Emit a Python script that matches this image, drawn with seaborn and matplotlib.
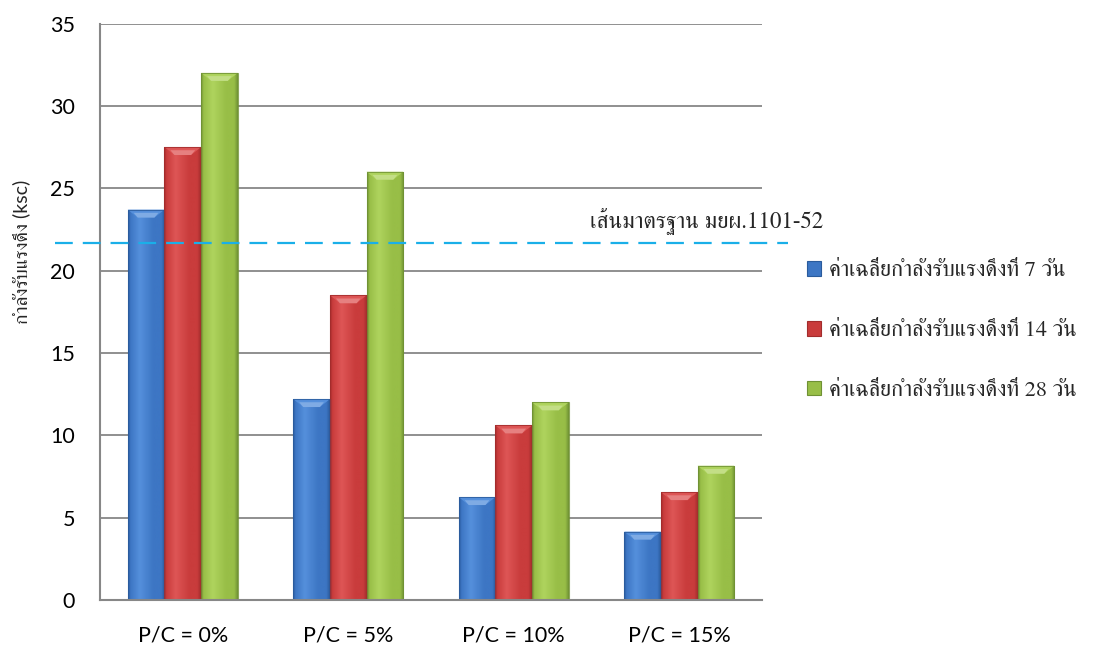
import numpy as np
import pandas as pd
import matplotlib
matplotlib.use("Agg")
import matplotlib.pyplot as plt
import matplotlib.colors as mcolors
from matplotlib import font_manager
from matplotlib.ft2font import FT2Font
from matplotlib.patches import Polygon
from matplotlib.transforms import blended_transform_factory
import seaborn as sns

# ---- data ----
categories = ["P/C = 0%", "P/C = 5%", "P/C = 10%", "P/C = 15%"]
series = [
    "ค่าเฉลี่ยกำลังรับแรงดึงที่ 7 วัน",
    "ค่าเฉลี่ยกำลังรับแรงดึงที่ 14 วัน",
    "ค่าเฉลี่ยกำลังรับแรงดึงที่ 28 วัน",
]
day7 = [23.7, 12.2, 6.25, 4.15]
day14 = [27.5, 18.5, 10.6, 6.55]
day28 = [32.0, 26.0, 12.0, 8.15]
standard_value = 21.7
standard_label = "เส้นมาตรฐาน มยผ.1101-52"
ylabel_text = "กำลังรับแรงดึง (ksc)"
yticks = [0, 5, 10, 15, 20, 25, 30, 35]

df = pd.DataFrame({
    "cat": categories * 3,
    "series": [s for s in series for _ in categories],
    "value": day7 + day14 + day28,
})

# ---- fonts: find something that can draw Thai ----
def find_thai_family():
    found = []
    for f in font_manager.fontManager.ttflist:
        try:
            cmap = FT2Font(f.fname).get_charmap()
        except Exception:
            continue
        if 0x0E01 in cmap and 0x0E33 in cmap:
            found.append(f.name)
    if not found:
        return None
    found = sorted(set(found), key=lambda n: (("Serif" not in n), n))
    return found[0]

thai = find_thai_family()
sns.set_style("white")
latin = "Lato"
fam_latin = [latin, "DejaVu Sans"]
fam_thai = ([thai] if thai else []) + ["DejaVu Sans"]
fam_mixed = [latin] + ([thai] if thai else []) + ["DejaVu Sans"]
plt.rcParams["font.family"] = fam_mixed

# ---- colours (dark edge, body, highlight) ----
shades = [
    ("#2A5B9C", "#3D76C4", "#5590DC"),
    ("#A22C2C", "#C93C3C", "#DE5656"),
    ("#6F9134", "#98BE47", "#AFD45E"),
]
grey = "#878787"

fig = plt.figure(figsize=(10.94, 6.46), dpi=100)
ax = fig.add_axes([100 / 1094, 1 - 600 / 646, 662 / 1094, (600 - 23.5) / 646])

sns.barplot(data=df, x="cat", y="value", hue="series", order=categories,
            hue_order=series, palette=[s[1] for s in shades], width=0.665,
            saturation=1, legend=False, ax=ax, edgecolor="none", linewidth=0)

ax.set_ylim(0, 35)
ax.set_xlim(-0.5, 3.5)
ax.set_yticks(yticks)

# horizontal gridlines
for v in yticks[1:]:
    ax.axhline(v, color=grey, lw=1.3, zorder=0.5)

# bevelled shading for each bar
px_x = 4 / 662
px_y = 35 / 576.5
for container, (dark, body, light) in zip(ax.containers, shades):
    cmap = mcolors.LinearSegmentedColormap.from_list(
        "bar", [(0, dark), (0.07, body), (0.32, light), (0.68, body),
                (0.9, body), (1.0, dark)])
    grad = np.linspace(0, 1, 256).reshape(1, -1)
    for bar in container:
        x0, w, h = bar.get_x(), bar.get_width(), bar.get_height()
        bar.set_zorder(2)
        im = ax.imshow(grad, cmap=cmap, aspect="auto",
                       extent=[x0, x0 + w, 0, h], zorder=2.1,
                       interpolation="bilinear")
        im.set_clip_path(bar)
        bh = 8 * px_y
        bi = 10 * px_x
        top = Polygon([(x0, h), (x0 + w, h), (x0 + w - bi, h - bh),
                       (x0 + bi, h - bh)], closed=True,
                      facecolor=mcolors.to_rgba(light, 1), edgecolor="none",
                      zorder=2.2)
        ax.add_patch(top)
        hl = Polygon([(x0 + bi, h - bh), (x0 + w - bi, h - bh),
                      (x0 + w - bi * 0.6, h - bh * 0.4),
                      (x0 + bi * 0.6, h - bh * 0.4)], closed=True,
                     facecolor=(1, 1, 1, 0.25), edgecolor="none", zorder=2.3)
        ax.add_patch(hl)
        ax.add_patch(plt.Rectangle((x0, 0), w, h, fill=False,
                                   edgecolor=mcolors.to_rgba(dark, 0.8),
                                   lw=0.8, zorder=2.4))
ax.set_xlim(-0.5, 3.5)
ax.set_ylim(0, 35)

# spines and ticks
for s in ["top", "right"]:
    ax.spines[s].set_visible(False)
for s in ["left", "bottom"]:
    ax.spines[s].set_color(grey)
    ax.spines[s].set_linewidth(1.5)
    ax.spines[s].set_zorder(3)
ax.tick_params(axis="y", direction="out", length=6, width=1.3, color=grey,
               pad=12, labelsize=15.5, labelcolor="black")
ax.set_xticks(np.arange(-0.5, 4, 1), minor=True)
ax.tick_params(axis="x", which="minor", direction="out", length=6, width=1.3,
               color=grey)
ax.tick_params(axis="x", which="major", length=0, pad=18, labelsize=15.5,
               labelcolor="black")
for lab in ax.get_xticklabels() + ax.get_yticklabels():
    lab.set_family(fam_latin)
ax.set_xlabel("")
ax.set_ylabel("")

# standard line
ax.axhline(standard_value, xmin=-0.068, xmax=1.04, color="#1AAFE8", lw=1.6,
           dashes=(8, 4.5), clip_on=False, zorder=4)
ax.text(0.74, standard_value + 0.45, standard_label,
        transform=blended_transform_factory(ax.transAxes, ax.transData),
        ha="left", va="bottom", fontsize=16.5, family=fam_thai, clip_on=False)

# y label
fig.text(21 / 1094, 1 - 252 / 646, ylabel_text, rotation=90, ha="center",
         va="center", fontsize=14, family=fam_mixed)

# legend
handles = [plt.Rectangle((0, 0), 1, 1, facecolor=s[1], edgecolor=s[0], lw=0.8)
           for s in shades]
fig.legend(handles, series, loc="center left",
           bbox_to_anchor=(787 / 1094, 1 - 331 / 646), frameon=False,
           handlelength=0.63, handleheight=0.63, handletextpad=0.35,
           labelspacing=1.78, prop={"family": fam_thai, "size": 16})

fig.savefig("out.png", dpi=100)
